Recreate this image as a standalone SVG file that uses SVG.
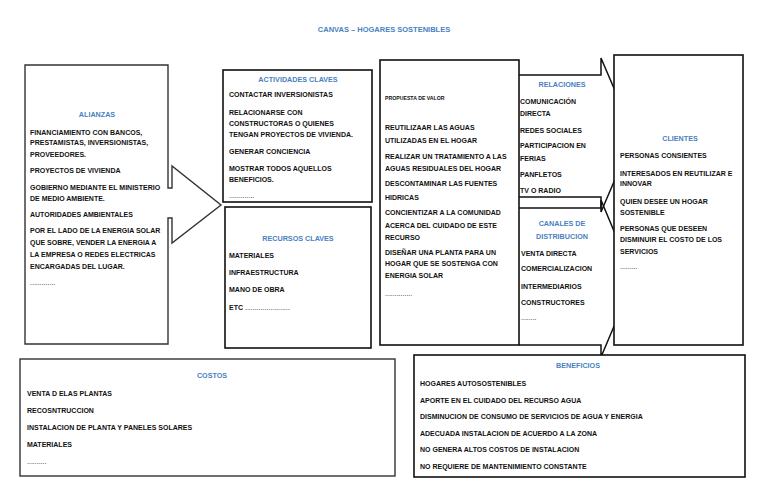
<svg xmlns="http://www.w3.org/2000/svg" width="768" height="497" viewBox="0 0 768 497">
<style>
.t{font-family:"Liberation Sans",Arial,sans-serif;font-weight:bold;font-size:7px;fill:#111}
.d{font-family:"Liberation Sans",Arial,sans-serif;font-size:7px;fill:#111}
.h{font-family:"Liberation Sans",Arial,sans-serif;font-weight:bold;font-size:7.2px;fill:#4a7fc0;text-anchor:middle}
.box{fill:#fff;stroke:#111;stroke-width:1.6}
.gbox{fill:#fff;stroke:#333;stroke-width:1.4}
.arr{fill:none;stroke:#111;stroke-width:1.5}
</style>
<rect width="768" height="497" fill="#fff"/>
<text class="h" x="384" y="32" style="font-size:7.5px">CANVAS – HOGARES SOSTENIBLES</text>

<g id="connectors">
<path class="arr" d="M519,75 H601 V58 L634,135 L601,212 V197 H519"/>
<path class="arr" d="M519,208 H601 V200 L634,279 L601,357 V345 H519"/>
</g>

<g id="alianzas">
<path class="gbox" d="M25,65 H168 V188 H172 V166 L221,205 L172,243 V218 H168 V344 H25 Z"/>
<text class="h" x="97" y="117">ALIANZAS</text>
<text class="t" x="30" y="134.5">FINANCIAMIENTO CON BANCOS,</text>
<text class="t" x="30" y="145">PRESTAMISTAS, INVERSIONISTAS,</text>
<text class="t" x="30" y="157">PROVEEDORES.</text>
<text class="t" x="30" y="173">PROYECTOS DE VIVIENDA</text>
<text class="t" x="30" y="190">GOBIERNO MEDIANTE EL MINISTERIO</text>
<text class="t" x="30" y="201">DE MEDIO AMBIENTE.</text>
<text class="t" x="30" y="217">AUTORIDADES AMBIENTALES</text>
<text class="t" x="30" y="233">POR EL LADO DE LA ENERGIA SOLAR</text>
<text class="t" x="30" y="245">QUE SOBRE, VENDER LA ENERGIA A</text>
<text class="t" x="30" y="257">LA EMPRESA O REDES ELECTRICAS</text>
<text class="t" x="30" y="269">ENCARGADAS DEL LUGAR.</text>
<text class="d" x="30" y="285">.............</text>
</g>

<g id="actividades">
<rect class="box" x="223" y="70" width="149" height="132"/>
<text class="h" x="298" y="82">ACTIVIDADES CLAVES</text>
<text class="t" x="229" y="96.5">CONTACTAR INVERSIONISTAS</text>
<text class="t" x="229" y="114.5">RELACIONARSE CON</text>
<text class="t" x="229" y="125.5">CONSTRUCTORAS O QUIENES</text>
<text class="t" x="229" y="136.5">TENGAN PROYECTOS DE VIVIENDA.</text>
<text class="t" x="229" y="153.5">GENERAR CONCIENCIA</text>
<text class="t" x="229" y="170.5">MOSTRAR TODOS AQUELLOS</text>
<text class="t" x="229" y="181.5">BENEFICIOS.</text>
<text class="d" x="229" y="198">.............</text>
</g>

<g id="recursos">
<rect class="box" x="225" y="207" width="146" height="141"/>
<text class="h" x="298" y="241">RECURSOS CLAVES</text>
<text class="t" x="229" y="257.5">MATERIALES</text>
<text class="t" x="229" y="274.5">INFRAESTRUCTURA</text>
<text class="t" x="229" y="291.5">MANO DE OBRA</text>
<text class="t" x="229" y="309.5">ETC <tspan style="font-weight:normal">.......................</tspan></text>
</g>

<g id="propuesta">
<rect class="box" x="380" y="60" width="139" height="285"/>
<text class="t" x="385" y="100" style="font-size:5.2px">PROPUESTA DE VALOR</text>
<text class="t" x="385" y="129.5">REUTILIZAAR LAS AGUAS</text>
<text class="t" x="385" y="142.5">UTILIZADAS EN EL HOGAR</text>
<text class="t" x="385" y="158.5">REALIZAR UN TRATAMIENTO A LAS</text>
<text class="t" x="385" y="170.5">AGUAS RESIDUALES DEL HOGAR</text>
<text class="t" x="385" y="185.5">DESCONTAMINAR LAS FUENTES</text>
<text class="t" x="385" y="199.5">HIDRICAS</text>
<text class="t" x="385" y="214.5">CONCIENTIZAR A LA COMUNIDAD</text>
<text class="t" x="385" y="227.5">ACERCA DEL CUIDADO DE ESTE</text>
<text class="t" x="385" y="239.5">RECURSO</text>
<text class="t" x="385" y="254.5">DISEÑAR UNA PLANTA PARA UN</text>
<text class="t" x="385" y="265.5">HOGAR QUE SE SOSTENGA CON</text>
<text class="t" x="385" y="277.5">ENERGIA SOLAR</text>
<text class="d" x="385" y="296">..............</text>
</g>

<g id="relaciones">
<text class="h" x="562" y="87">RELACIONES</text>
<text class="t" x="520" y="103.5">COMUNICACIÓN</text>
<text class="t" x="520" y="115.5">DIRECTA</text>
<text class="t" x="520" y="132.5">REDES SOCIALES</text>
<text class="t" x="520" y="147.5">PARTICIPACION EN</text>
<text class="t" x="520" y="160.5">FERIAS</text>
<text class="t" x="520" y="176.5">PANFLETOS</text>
<text class="t" x="520" y="192.5">TV O RADIO</text>
</g>

<g id="canales">
<text class="h" x="562" y="226">CANALES DE</text>
<text class="h" x="562" y="239">DISTRIBUCION</text>
<text class="t" x="521" y="255.5">VENTA DIRECTA</text>
<text class="t" x="521" y="270.5">COMERCIALIZACION</text>
<text class="t" x="521" y="288.5">INTERMEDIARIOS</text>
<text class="t" x="521" y="304.5">CONSTRUCTORES</text>
<text class="d" x="521" y="320">........</text>
</g>

<g id="clientes">
<rect class="box" x="614" y="55" width="129" height="290"/>
<text class="h" x="680" y="141">CLIENTES</text>
<text class="t" x="620" y="157.5">PERSONAS CONSIENTES</text>
<text class="t" x="620" y="175.5">INTERESADOS EN REUTILIZAR E</text>
<text class="t" x="620" y="185.5">INNOVAR</text>
<text class="t" x="620" y="203.5">QUIEN DESEE UN HOGAR</text>
<text class="t" x="620" y="214.5">SOSTENIBLE</text>
<text class="t" x="620" y="230.5">PERSONAS QUE DESEEN</text>
<text class="t" x="620" y="241.5">DISMINUIR EL COSTO DE LOS</text>
<text class="t" x="620" y="253.5">SERVICIOS</text>
<text class="d" x="620" y="269">.........</text>
</g>

<g id="costos">
<rect class="gbox" x="20" y="359" width="375" height="117"/>
<text class="h" x="212" y="378">COSTOS</text>
<text class="t" x="27" y="395.5">VENTA D ELAS PLANTAS</text>
<text class="t" x="27" y="412.5">RECOSNTRUCCION</text>
<text class="t" x="27" y="429.5">INSTALACION DE PLANTA Y PANELES SOLARES</text>
<text class="t" x="27" y="446.5">MATERIALES</text>
<text class="d" x="27" y="464">..........</text>
</g>

<g id="beneficios">
<rect class="box" x="414" y="355" width="331" height="122"/>
<text class="h" x="578" y="368">BENEFICIOS</text>
<text class="t" x="420" y="385.5">HOGARES AUTOSOSTENIBLES</text>
<text class="t" x="420" y="402.5">APORTE EN EL CUIDADO DEL RECURSO AGUA</text>
<text class="t" x="420" y="418.5">DISMINUCION DE CONSUMO DE SERVICIOS DE AGUA Y ENERGIA</text>
<text class="t" x="420" y="435.5">ADECUADA INSTALACION DE ACUERDO A LA ZONA</text>
<text class="t" x="420" y="451.5">NO GENERA ALTOS COSTOS DE INSTALACION</text>
<text class="t" x="420" y="468.5">NO REQUIERE DE MANTENIMIENTO CONSTANTE</text>
</g>
</svg>
